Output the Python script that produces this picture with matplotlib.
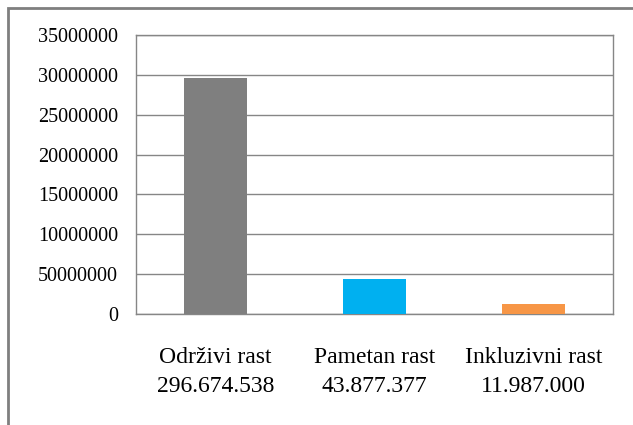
import matplotlib.pyplot as plt
from matplotlib.patches import Rectangle

# Data
categories = ["Održivi rast\n296.674.538", "Pametan rast\n43.877.377", "Inkluzivni rast\n11.987.000"]
values = [29667454, 4387738, 1198700]
colors = ["#7F7F7F", "#00B0F0", "#F79646"]
yticks = [0, 5000000, 10000000, 15000000, 20000000, 25000000, 30000000, 35000000]
ytick_labels = ["0", "50000000", "10000000", "15000000", "20000000", "25000000", "30000000", "35000000"]

plt.rcParams['font.family'] = ['Liberation Serif', 'DejaVu Serif']

fig = plt.figure(figsize=(6.33, 4.25), dpi=100)
ax = fig.add_axes([136 / 633, 111 / 425, 477 / 633, 279 / 425])

x = range(len(values))
ax.bar(x, values, width=0.4, color=colors, zorder=3)
ax.set_xlim(-0.5, 2.5)
ax.set_ylim(0, 35000000)
ax.set_yticks(yticks)
ax.set_yticklabels(ytick_labels, fontsize=14.5)
ax.set_xticks(list(x))
ax.set_xticklabels(categories, fontsize=17, linespacing=1.45)
ax.tick_params(axis='y', length=0, pad=13)
ax.tick_params(axis='x', length=0, pad=24)
ax.grid(axis='y', color='#868686', linewidth=1, zorder=0)
for s in ax.spines.values():
    s.set_color('#868686')
    s.set_linewidth(1)

# outer frame of the chart object
fig.patches.append(Rectangle((8 / 633, -0.1), 1.1, (425 - 8) / 425 + 0.1,
                             transform=fig.transFigure, fill=False,
                             edgecolor='#7F7F7F', linewidth=2))

plt.savefig("out.png", dpi=100)
